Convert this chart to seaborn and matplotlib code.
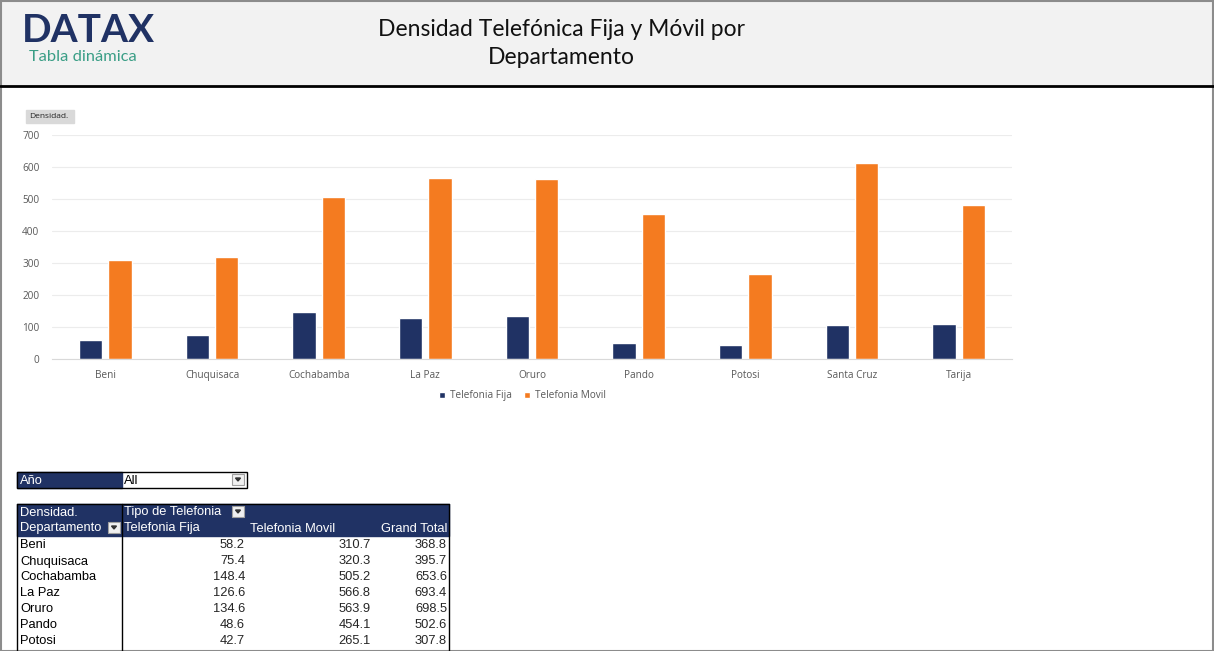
import matplotlib
matplotlib.use("Agg")
import matplotlib.pyplot as plt
import matplotlib.patches as mpatches
import pandas as pd
import seaborn as sns

# datos
departamentos = ['Beni', 'Chuquisaca', 'Cochabamba', 'La Paz', 'Oruro', 'Pando',
                 'Potosi', 'Santa Cruz', 'Tarija']
fija = [58.2, 75.4, 148.4, 126.6, 134.6, 48.6, 42.7, 106.5, 109.8]
movil = [310.7, 320.3, 505.2, 566.8, 563.9, 454.1, 265.1, 612.4, 481.6]
total = [368.8, 395.7, 653.6, 693.4, 698.5, 502.6, 307.8, 718.9, 591.4]
series = ['Telefonia Fija', 'Telefonia Movil']
y_ticks = [0, 100, 200, 300, 400, 500, 600, 700]

navy = '#203264'
orange = '#F47B20'

df = pd.DataFrame({'Departamento': departamentos * 2,
                   'Tipo': [series[0]] * 9 + [series[1]] * 9,
                   'Densidad': fija + movil})

sns.set_style('white')
plt.rcParams['font.family'] = ['Open Sans', 'DejaVu Sans']

W, H = 1214, 651
fig = plt.figure(figsize=(W / 100, H / 100), dpi=100)

# capa de fondo en pixeles (cabecera, tabla dinamica)
bg = fig.add_axes([0, 0, 1, 1])
bg.set_xlim(0, W)
bg.set_ylim(H, 0)
bg.axis('off')

bg.add_patch(mpatches.Rectangle((0, 0), W, 85, color='#f2f2f2', zorder=0))
bg.plot([0, W], [86, 86], color='black', lw=2)
bg.add_patch(mpatches.Rectangle((0.5, 0.5), W - 1.5, H - 1, fill=False, ec='#8c8c8c', lw=1.5))

bg.text(22, 31, 'DATAX', fontsize=28, fontweight='bold', color=navy, va='center', ha='left',
        family=['Lato', 'DejaVu Sans'])
bg.text(29, 57, 'Tabla dinámica', fontsize=11.8, color='#3a9e86', va='center', ha='left',
        family=['Lato', 'DejaVu Sans'])
bg.text(561, 29, 'Densidad Telefónica Fija y Móvil por', fontsize=16.5, ha='center', va='center',
        color='#111111', family=['Lato', 'DejaVu Sans'])
bg.text(561, 57, 'Departamento', fontsize=16.5, ha='center', va='center',
        color='#111111', family=['Lato', 'DejaVu Sans'])

# etiqueta del campo
bg.add_patch(mpatches.Rectangle((26, 110), 48, 13, color='#d9d9d9'))
bg.text(29, 116.5, 'Densidad.', fontsize=6, va='center', ha='left', color='#222222')

# filtro Año
tfont = dict(fontsize=9.3, family=['Liberation Sans', 'DejaVu Sans'])
bg.add_patch(mpatches.Rectangle((17, 472), 105, 16, color=navy))
bg.add_patch(mpatches.Rectangle((17, 472), 230, 16, fill=False, ec='black', lw=1))
bg.text(20, 480.5, 'Año', color='white', va='center', **tfont)
bg.text(124, 480.5, 'All', color='black', va='center', **tfont)


def dropdown(x, y):
    bg.add_patch(mpatches.Rectangle((x, y), 12, 11, fc='#f0f0f0', ec='#a0a0a0', lw=0.8))
    bg.add_patch(mpatches.Polygon([(x + 3.5, y + 4), (x + 8.5, y + 4), (x + 6, y + 7)], color='#333333'))


dropdown(232, 474)

# tabla dinamica
bg.add_patch(mpatches.Rectangle((17, 504), 432, 32, color=navy))
bg.text(20, 512.5, 'Densidad.', color='white', va='center', **tfont)
bg.text(124, 512.5, 'Tipo de Telefonia', color='white', va='center', **tfont)
bg.text(20, 528.5, 'Departamento', color='white', va='center', **tfont)
bg.text(124, 528.5, series[0], color='white', va='center', **tfont)
bg.text(250, 528.5, series[1], color='white', va='center', **tfont)
bg.text(447, 528.5, 'Grand Total', color='white', va='center', ha='right', **tfont)
dropdown(232, 506)
dropdown(108, 522)
bg.plot([122, 122], [504, H], color='black', lw=1)
bg.plot([17, 17], [504, H], color='black', lw=1)
bg.plot([449, 449], [504, H], color='black', lw=1)
bg.plot([17, 449], [504, 504], color='black', lw=1)
for i, d in enumerate(departamentos):
    yy = 545.5 + 16 * i
    if yy > H - 8:
        break  # filas fuera del area visible
    bg.text(20, yy, d, color='black', va='center', **tfont)
    bg.text(245, yy, f'{fija[i]:.1f}', ha='right', va='center', **tfont)
    bg.text(371, yy, f'{movil[i]:.1f}', ha='right', va='center', **tfont)
    bg.text(447, yy, f'{total[i]:.1f}', ha='right', va='center', **tfont)

# grafico de barras
ax = fig.add_axes([52 / W, (H - 359) / H, 960 / W, 224 / H])
ax.set_facecolor('none')
sns.barplot(data=df, x='Departamento', y='Densidad', hue='Tipo', order=departamentos,
            hue_order=series, palette=[navy, orange], width=0.55, gap=0.21,
            saturation=1, ax=ax)
ax.set_xlim(-0.5, 8.5)
ax.set_ylim(0, 700)
ax.set_yticks(y_ticks)
ax.grid(axis='y', color='#ececec', lw=0.8)
ax.set_axisbelow(True)
for s in ['top', 'right', 'left']:
    ax.spines[s].set_visible(False)
ax.spines['bottom'].set_color('#d9d9d9')
ax.tick_params(axis='both', length=0, labelsize=7.2, labelcolor='#595959')
ax.tick_params(axis='y', pad=9)
ax.tick_params(axis='x', pad=8)
ax.set_xlabel('')
ax.set_ylabel('')
ax.legend(loc='upper center', bbox_to_anchor=(0.49, -0.1), ncol=2, frameon=False,
          fontsize=7.2, handlelength=0.6, handleheight=0.6, columnspacing=1.2,
          handletextpad=0.5, labelcolor='#595959')

fig.savefig('out.png', dpi=100)
